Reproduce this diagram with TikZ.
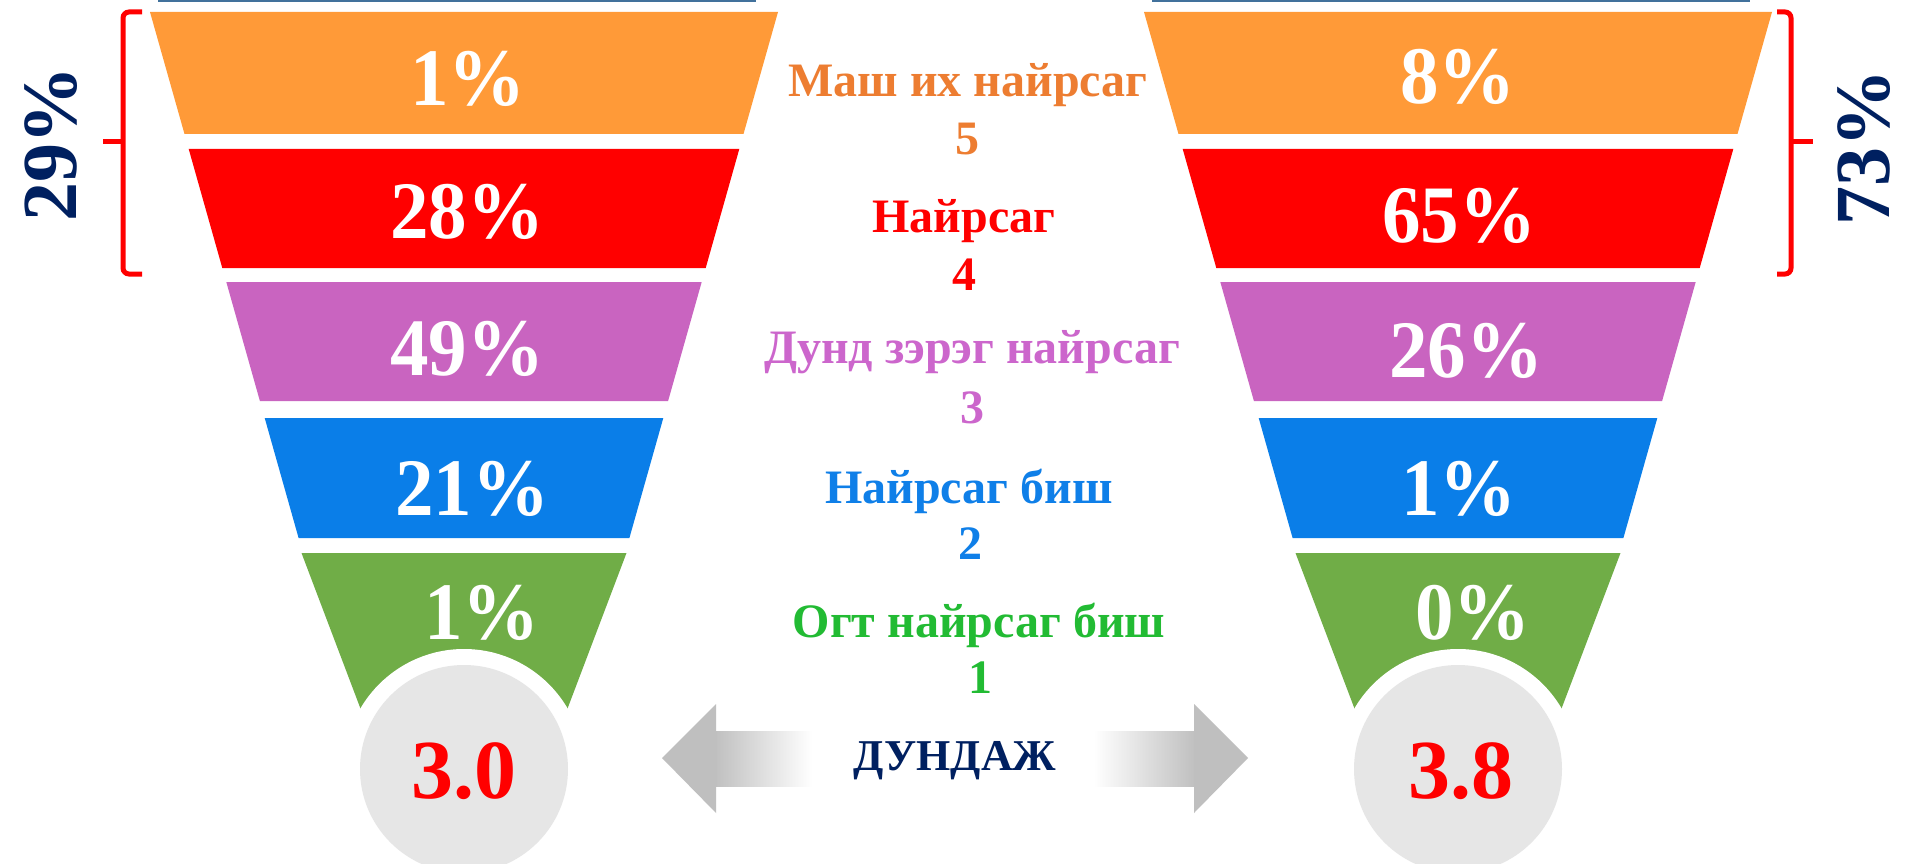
\documentclass[tikz,border=0pt]{standalone}
\usepackage{fontspec}
\setmainfont{Liberation Serif}
\definecolor{bandorange}{HTML}{FF9A38}
\definecolor{bandred}{HTML}{FF0000}
\definecolor{bandpurple}{HTML}{C964C0}
\definecolor{bandblue}{HTML}{0A7EE8}
\definecolor{bandgreen}{HTML}{70AD47}
\definecolor{avggray}{HTML}{E6E6E6}
\definecolor{arrowgray}{HTML}{BFBFBF}
\definecolor{topline}{HTML}{41719C}
\definecolor{txtorange}{HTML}{ED7D31}
\definecolor{txtpurple}{HTML}{CC66CC}
\definecolor{txtblue}{HTML}{0F7FE8}
\definecolor{txtgreen}{HTML}{22BB33}
\definecolor{navy}{HTML}{002060}
\tikzset{
  pct/.style={text=white, font=\fontsize{77}{77}\selectfont\bfseries, inner sep=0pt, anchor=base, yscale=1.06},
  lbl/.style={font=\fontsize{48}{48}\selectfont\bfseries, inner sep=0pt, anchor=base},
  avgnum/.style={text=red, font=\fontsize{84}{84}\selectfont\bfseries, inner sep=0pt, anchor=base},
  sumpct/.style={text=navy, font=\fontsize{78}{78}\selectfont\bfseries, inner sep=0pt},
  bracebar/.style={draw=red, line width=5pt, rounded corners=6pt},
  tickbar/.style={draw=red, line width=5pt},
}
\begin{document}
\begin{tikzpicture}[x=1pt,y=-1pt]
\useasboundingbox (0,0) rectangle (1907,864);
\clip (0,0) rectangle (1907,864);
\fill[white] (0,0) rectangle (1907,864);
% funnels
\foreach \cx in {464,1458}{
  \begin{scope}[xshift=\cx pt]
    \fill[bandorange] (-314,12) -- (314,12) -- (279.5,134) -- (-279.5,134) -- cycle;
    \fill[bandred] (-275.3,149) -- (275.3,149) -- (241.7,268) -- (-241.7,268) -- cycle;
    \fill[bandpurple] (-237.7,282) -- (237.7,282) -- (204.1,401) -- (-204.1,401) -- cycle;
    \fill[bandblue] (-199.3,418) -- (199.3,418) -- (165.4,538) -- (-165.4,538) -- cycle;
    \fill[bandgreen] (-162.5,553) -- (162.5,553) -- (84,760) -- (-84,760) -- cycle;
    \fill[white] (0,769) circle (120pt);
    \fill[avggray] (0,769) circle (104pt);
    \draw[topline, line width=3pt] (-306,1) -- (292,1);
  \end{scope}
}
% percentages left
\node[pct] (l5) at (468,106) {1\%};
\node[pct] (l4) at (467,238) {28\%};
\node[pct] (l3) at (467,375) {49\%};
\node[pct] (l2) at (472,515) {21\%};
\node[pct] (l1) at (482,639) {1\%};
% percentages right
\node[pct] (r5) at (1458,104) {8\%};
\node[pct] (r4) at (1459,242) {65\%};
\node[pct] (r3) at (1466,377) {26\%};
\node[pct] (r2) at (1459,515) {1\%};
\node[pct] (r1) at (1473,639) {0\%};
% averages
\node[avgnum] (lavg) at (464,798) {3.0};
\node[avgnum] (ravg) at (1461,798) {3.8};
% middle labels
\node[lbl, text=txtorange] (t5) at (968,97) {Маш их найрсаг};
\node[lbl, text=txtorange] (n5) at (967,155) {5};
\node[lbl, text=red] (t4) at (964,232) {Найрсаг};
\node[lbl, text=red] (n4) at (964,290) {4};
\node[lbl, text=txtpurple] (t3) at (972,363) {Дунд зэрэг найрсаг};
\node[lbl, text=txtpurple] (n3) at (972,423) {3};
\node[lbl, text=txtblue] (t2) at (969,503) {Найрсаг биш};
\node[lbl, text=txtblue] (n2) at (970,559) {2};
\node[lbl, text=txtgreen] (t1) at (979,637) {Огт найрсаг биш};
\node[lbl, text=txtgreen] (n1) at (980,693) {1};
\node[font=\fontsize{44}{44}\selectfont\bfseries, text=navy, inner sep=0pt, anchor=base] (avg) at (955,770) {ДУНДАЖ};
% arrows
\shade[left color=arrowgray, right color=white] (714,731) rectangle (812,786);
\fill[arrowgray] (662,758) -- (716,704) -- (716,813) -- cycle;
\shade[left color=white, right color=arrowgray] (1094,731) rectangle (1196,786);
\fill[arrowgray] (1248,758) -- (1194,704) -- (1194,813) -- cycle;
% braces
\draw[bracebar] (142,12) -- (123,12) -- (123,274) -- (142,274);
\draw[tickbar] (123,142) -- (103,142);
\draw[bracebar] (1777,12) -- (1791,12) -- (1791,274) -- (1777,274);
\draw[tickbar] (1791,142) -- (1813,142);
\node[sumpct, rotate=90] (lsum) at (51,144) {29\%};
\node[sumpct, rotate=90] (rsum) at (1864,147) {73\%};
\end{tikzpicture}
\end{document}
